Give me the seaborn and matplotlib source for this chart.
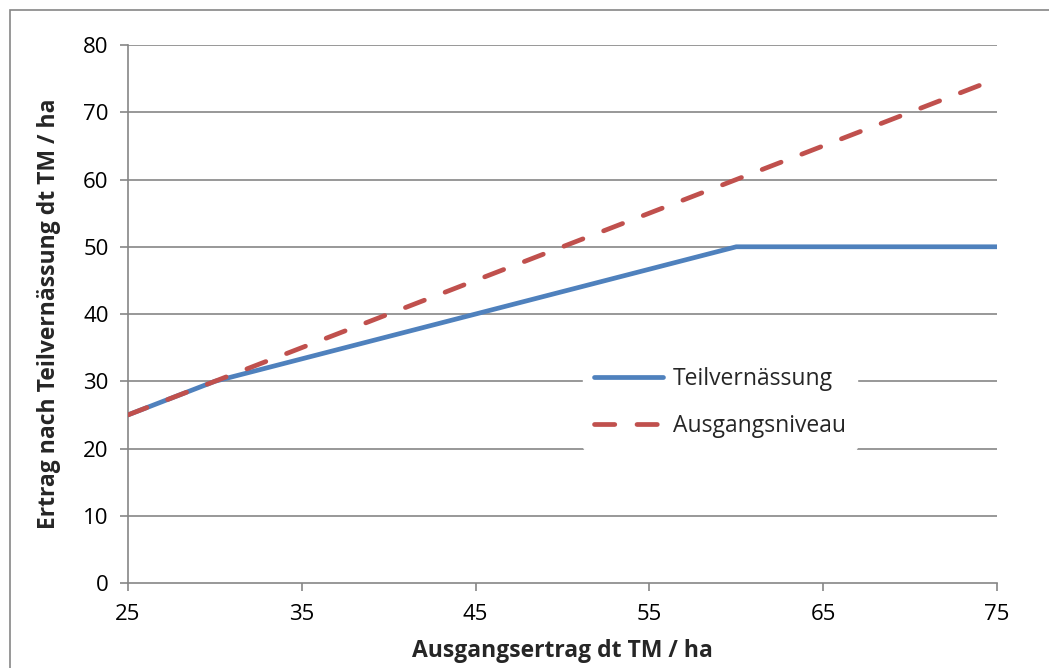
import matplotlib
matplotlib.use('Agg')
import matplotlib.pyplot as plt
import seaborn as sns
import pandas as pd
from matplotlib.patches import Rectangle

# data
ausgangsertrag = [25, 30, 60, 75]
teilvernaessung = [25, 30, 50, 50]
ausgangsniveau_x = [25, 75]
ausgangsniveau_y = [25, 75]

x_ticks = [25, 35, 45, 55, 65, 75]
y_ticks = [0, 10, 20, 30, 40, 50, 60, 70, 80]

sns.set_theme(style='white')
plt.rcParams['font.family'] = ['Open Sans', 'DejaVu Sans']

df_teil = pd.DataFrame({'x': ausgangsertrag, 'y': teilvernaessung})
df_aus = pd.DataFrame({'x': ausgangsniveau_x, 'y': ausgangsniveau_y})

fig = plt.figure(figsize=(10.49, 6.68), dpi=100)
ax = fig.add_axes([0.122, 0.1272, 0.8284, 0.8054])

grid_col = '#868686'
for yv in y_ticks[1:]:
    ax.axhline(yv, color=grid_col, lw=1.2, zorder=0)

sns.lineplot(data=df_teil, x='x', y='y', ax=ax, color='#4F81BD', lw=3.4,
             label='Teilvernässung', solid_capstyle='round', zorder=3)
sns.lineplot(data=df_aus, x='x', y='y', ax=ax, color='#C0504D', lw=3.4,
             label='Ausgangsniveau', zorder=4)
ax.lines[-1].set_dashes([4.3, 4.7])
ax.lines[-1].set_dash_capstyle('round')

ax.set_xlim(25, 75)
ax.set_ylim(0, 80)
ax.set_xticks(x_ticks)
ax.set_yticks(y_ticks)
ax.tick_params(axis='both', labelsize=16, colors='black', length=6, width=1.2,
               direction='out', bottom=True, left=True)
ax.tick_params(axis='x', color=grid_col, pad=9)
ax.tick_params(axis='y', color=grid_col, pad=8)

for side in ['top', 'right']:
    ax.spines[side].set_visible(False)
for side in ['left', 'bottom']:
    ax.spines[side].set_color(grid_col)
    ax.spines[side].set_linewidth(1.2)

ax.set_xlabel('Ausgangsertrag dt TM / ha', fontsize=16.5, fontweight='bold', labelpad=10)
ax.set_ylabel('Ertrag nach Teilvernässung dt TM / ha', fontsize=16.5, fontweight='bold', labelpad=16)

leg = ax.legend(loc='center left', bbox_to_anchor=(0.51, 0.335), frameon=True,
                fontsize=16.5, handlelength=3.0, handletextpad=0.43, labelspacing=1.0,
                borderpad=0.5)
leg.get_frame().set_facecolor('white')
leg.get_frame().set_edgecolor('white')
leg.get_frame().set_alpha(1)
leg.set_zorder(5)

fig.patches.append(Rectangle((10 / 1049, -0.1), 1.1, 1.1 - 10 / 668,
                             transform=fig.transFigure, fill=False,
                             edgecolor=grid_col, lw=1.2))

fig.savefig('out.png', dpi=100)
